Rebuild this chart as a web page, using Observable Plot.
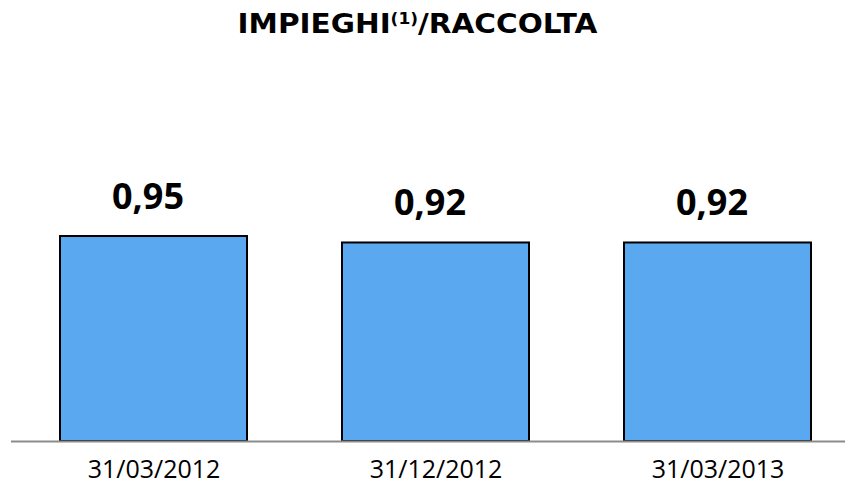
<!DOCTYPE html>
<html>
<head>
<meta charset="utf-8">
<script src="https://cdn.jsdelivr.net/npm/d3@7"></script>
<script src="https://cdn.jsdelivr.net/npm/@observablehq/plot@0.6"></script>
<style>
  html, body { margin: 0; padding: 0; background: #fff; }
  #title { height: 50px; width: 845px; padding-top: 11px; padding-right: 10px; box-sizing: border-box; text-align: center; font-family: "DejaVu Sans", Verdana, sans-serif; font-weight: bold; font-size: 26px; line-height: 26px; color: #000; }
  #title span { display: inline-block; transform: scaleX(1.135); transform-origin: center; }
  #title sup { font-size: 15px; vertical-align: 9px; line-height: 0; }
</style>
</head>
<body>
<div id="title"><span>IMPIEGHI<sup>(1)</sup>/RACCOLTA</span></div>
<div id="chart"></div>
<script>
const categories = ["31/03/2012", "31/12/2012", "31/03/2013"];
const values = [0.95, 0.92, 0.92];
const data = categories.map((c, i) => ({date: c, value: values[i]}));
const fmt = v => d3.format(".2f")(v).replace(".", ",");

const chart = Plot.plot({
  width: 845,
  height: 436,
  marginLeft: 11,
  marginRight: 0,
  marginTop: 8,
  marginBottom: 45,
  style: {fontFamily: "'Open Sans', sans-serif", background: "#fff"},
  x: {domain: categories, paddingInner: 0.338, paddingOuter: 0.145, align: 0.585, label: null},
  y: {domain: [0, 1.775], axis: null},
  marks: [
    Plot.barY(data, {x: "date", y: "value", fill: "#5aa8f0", stroke: "#000", strokeWidth: 2}),
    Plot.ruleY([0], {stroke: "#8c8c8c", strokeWidth: 2}),
    Plot.text(data, {x: "date", y: "value", text: d => fmt(d.value), lineAnchor: "bottom", dy: -28, dx: -6, fontSize: 36, fontWeight: "bold", fill: "#000"}),
    Plot.axisX({tickSize: 0, tickPadding: 19, fontSize: 25, fill: "#000", label: null})
  ]
});
document.getElementById("chart").appendChild(chart);
</script>
</body>
</html>
